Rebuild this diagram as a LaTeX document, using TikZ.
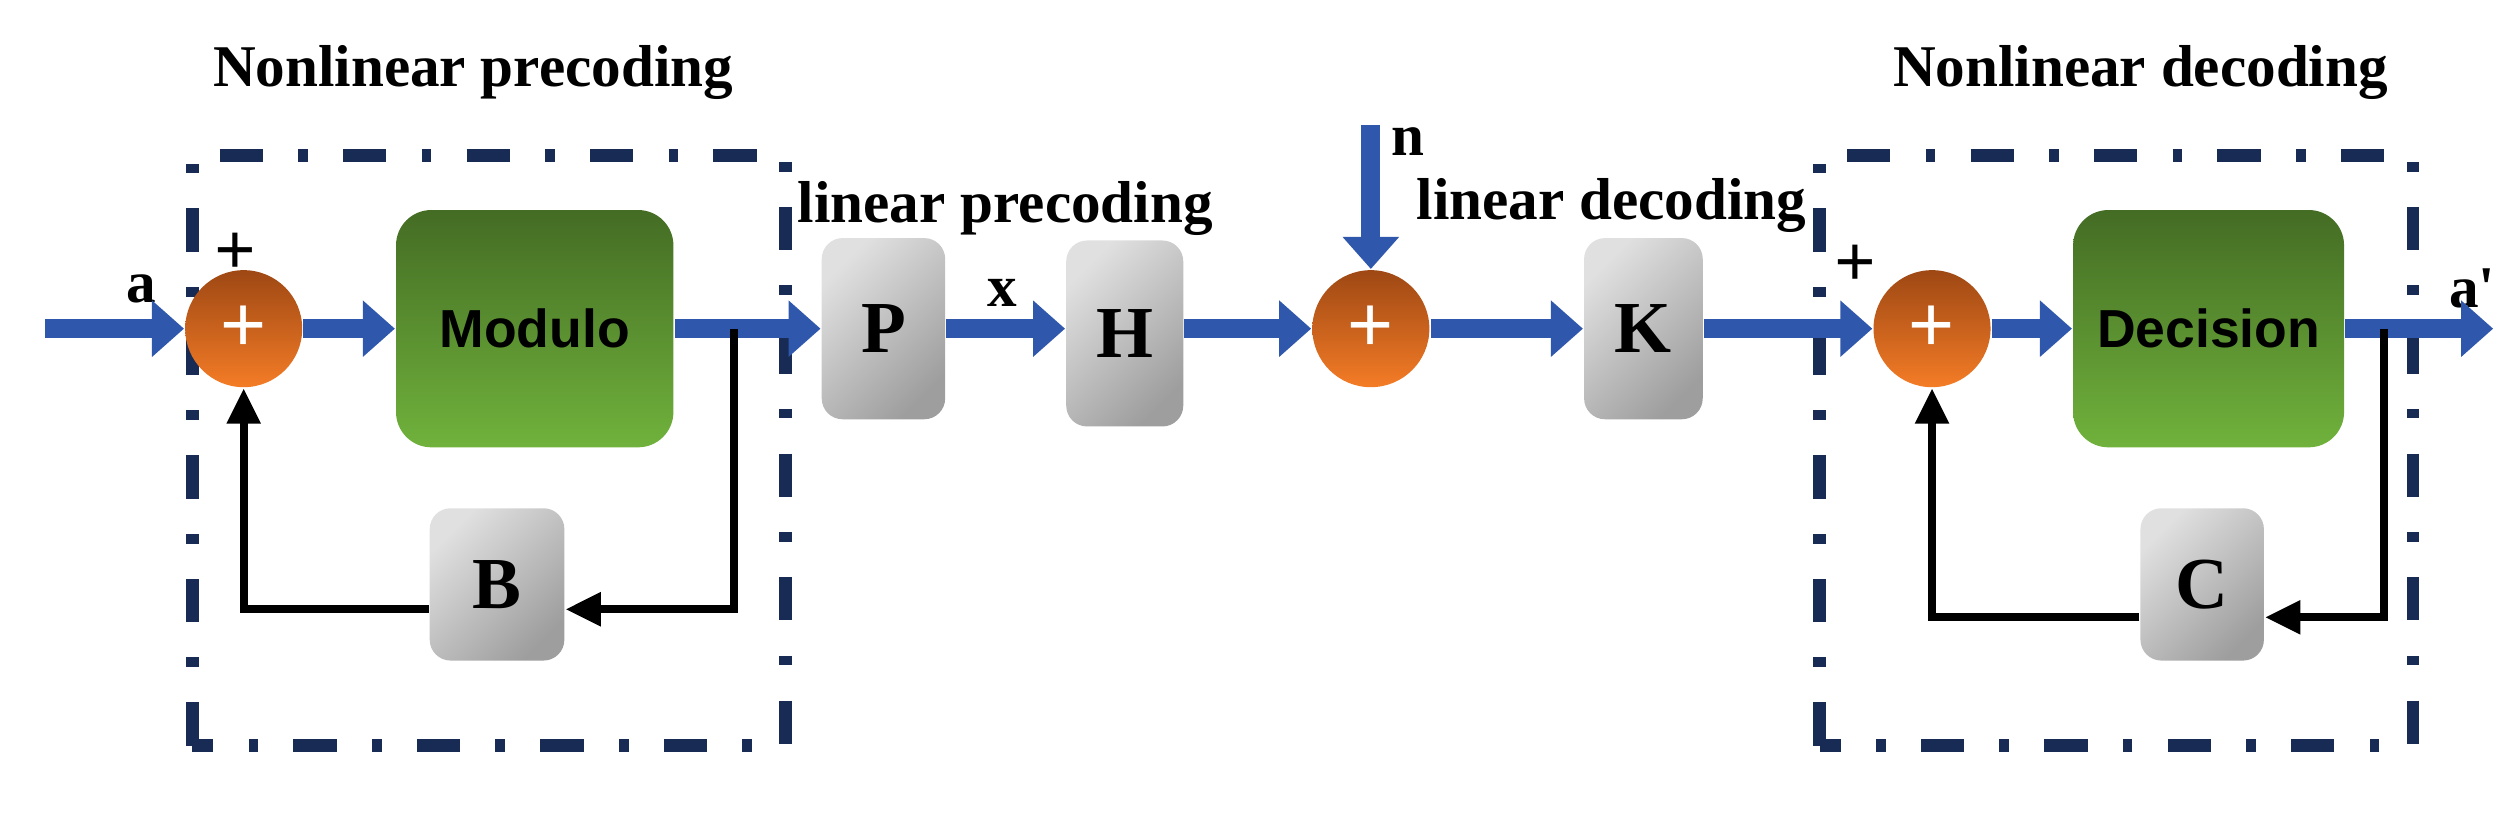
\documentclass[tikz,border=0pt]{standalone}
\usepackage{fontspec}
\setmainfont{Liberation Serif}
\newfontfamily\blocksans{Liberation Sans}
\usetikzlibrary{arrows.meta}
\definecolor{pipeblue}{RGB}{47,88,172}
\definecolor{framenavy}{RGB}{24,43,84}
\begin{document}
\begin{tikzpicture}[
        sum/.style={shape=circle, minimum size=0.73cm, inner sep=0pt, top color={rgb,255:red,158;green,72;blue,20}, bottom color={rgb,255:red,244;green,124;blue,38}, text=white, font=\blocksans\fontsize{14}{14}\selectfont},
        proc/.style={shape=rectangle, rounded corners=0.22cm, top color={rgb,255:red,68;green,108;blue,36}, bottom color={rgb,255:red,112;green,178;blue,60}, minimum width=1.73cm, minimum height=1.48cm, font=\blocksans\bfseries\fontsize{9.5}{10}\selectfont},
        gain/.style={shape=rectangle, rounded corners=0.13cm, top color=black!12, bottom color=black!38, shading angle=45, minimum width=0.77cm, minimum height=1.13cm, font=\bfseries\fontsize{13}{14}\selectfont},
        pipe/.style={draw=pipeblue, line width=0.12cm, -{Triangle[width=0.34cm, length=0.2cm]}},
        fb/.style={line width=0.05cm, -{Triangle[width=0.2cm, length=0.22cm]}},
        frame/.style={draw=framenavy, line width=0.08cm, dash pattern=on 0.27cm off 0.22cm on 0.06cm off 0.22cm},
        lbl/.style={font=\bfseries\fontsize{10.5}{12}\selectfont, inner sep=0pt},
    ]
    \useasboundingbox (0,0) rectangle (15.68,5.08);

    % frames
    \draw[frame] (1.20,0.43) rectangle (4.90,4.11);
    \draw[frame] (11.35,0.43) rectangle (15.05,4.11);
    \node[lbl] (tpre) at (2.95,4.63) {Nonlinear precoding};
    \node[lbl] (tdec) at (13.35,4.63) {Nonlinear decoding};

    % blocks
    \coordinate (in) at (0.28,3.03);
    \node[sum] (sum1) at (1.52,3.03) {+};
    \node[proc] (mod) at (3.335,3.03) {Modulo};
    \node[gain, minimum width=0.84cm, minimum height=0.95cm] (b) at (3.10,1.435) {B};
    \node[gain] (p) at (5.51,3.03) {P};
    \node[gain, minimum width=0.73cm, minimum height=1.16cm] (h) at (7.015,3.0) {H};
    \coordinate (noise) at (8.55,4.30);
    \node[sum] (sum2) at (8.55,3.03) {+};
    \node[gain, minimum width=0.74cm] (k) at (10.25,3.03) {K};
    \node[sum] (sum3) at (12.05,3.03) {+};
    \node[proc, minimum width=1.69cm] (dec) at (13.775,3.03) {Decision};
    \node[gain, minimum height=0.95cm] (c) at (13.735,1.435) {C};
    \coordinate (out) at (15.55,3.03);
    \coordinate (tap1) at (4.58,3.03);
    \coordinate (turn1) at (4.58,1.28);
    \coordinate (tap2) at (14.87,3.03);
    \coordinate (turn2) at (14.87,1.23);

    % labels
    \node[lbl] (la) at (0.88,3.28) {a};
    \node[font=\bfseries\fontsize{13}{13}\selectfont, inner sep=0pt] (plus1) at (1.47,3.50) {+};
    \node[lbl] (llp) at (6.27,3.78) {linear precoding};
    \node[lbl] (lx) at (6.25,3.25) {x};
    \node[lbl] (ln) at (8.78,4.20) {n};
    \node[lbl] (lld) at (10.05,3.80) {linear decoding};
    \node[font=\bfseries\fontsize{13}{13}\selectfont, inner sep=0pt] (plus3) at (11.57,3.42) {+};
    \node[lbl] (lout) at (15.42,3.28) {a\textquotesingle};

    % signal path
    \draw[pipe] (in) -- (sum1);
    \draw[pipe] (sum1) -- (mod);
    \draw[pipe] (mod) -- (p);
    \draw[pipe] (p) -- (p -| h.west);
    \draw[pipe] (h.east |- sum2) -- (sum2);
    \draw[pipe] (noise) -- (sum2);
    \draw[pipe] (sum2) -- (k);
    \draw[pipe] (k) -- (sum3);
    \draw[pipe] (sum3) -- (dec);
    \draw[pipe] (dec) -- (out);

    % feedback
    \draw[fb] (tap1) -- (turn1) -- (b.east |- turn1);
    \draw[fb] (b.west |- turn1) -| (sum1.south);
    \draw[fb] (tap2) -- (turn2) -- (c.east |- turn2);
    \draw[fb] (c.west |- turn2) -| (sum3.south);

\end{tikzpicture}
\end{document}
